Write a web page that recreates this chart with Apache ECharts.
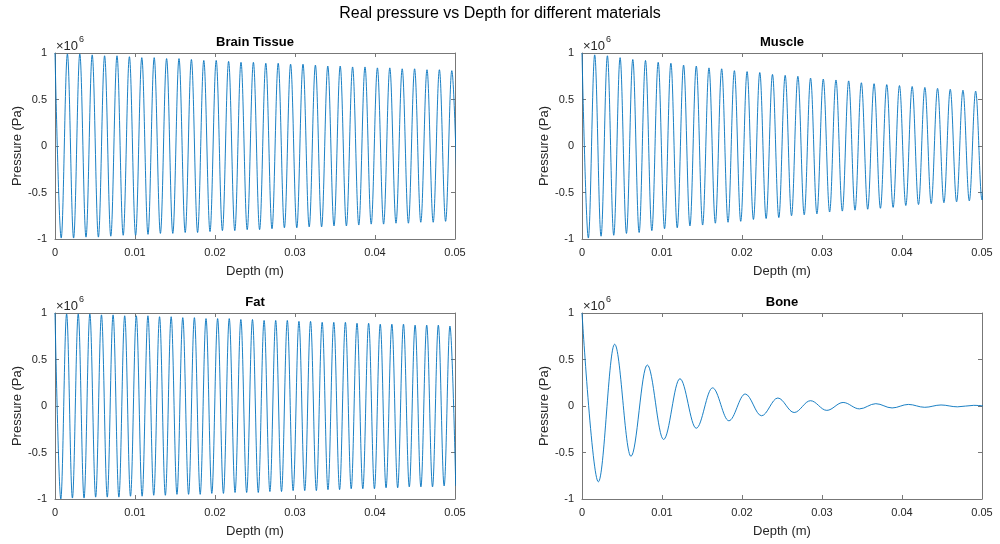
<!DOCTYPE html>
<html>
<head>
<meta charset="utf-8">
<title>Real pressure vs Depth for different materials</title>
<script src="https://cdn.jsdelivr.net/npm/echarts@6/dist/echarts.min.js"></script>
<style>
    html, body { margin: 0; padding: 0; background: #fff; }
    #main { width: 1000px; height: 544px; }
</style>
</head>
<body>
<div id="main"></div>
<script>
// 各曲线的极值点（深度单位 mm，压力单位 1e6 Pa）
var brainDepthMm = [0, 0.775, 1.55, 2.325, 3.1, 3.875, 4.65, 5.425, 6.2, 6.975,
    7.75, 8.525, 9.3, 10.075, 10.85, 11.625, 12.4, 13.175, 13.95, 14.725,
    15.5, 16.275, 17.05, 17.825, 18.6, 19.375, 20.15, 20.925, 21.7, 22.475,
    23.25, 24.025, 24.8, 25.575, 26.35, 27.125, 27.9, 28.675, 29.45, 30.225,
    31, 31.775, 32.55, 33.325, 34.1, 34.875, 35.65, 36.425, 37.2, 37.975,
    38.75, 39.525, 40.3, 41.075, 41.85, 42.625, 43.4, 44.175, 44.95, 45.725,
    46.5, 47.275, 48.05, 48.825, 49.6, 50.375];
var brainPressure = [1.00, -0.99, 0.99, -0.99, 0.99, -0.98, 0.98, -0.98, 0.97, -0.97,
    0.97, -0.96, 0.96, -0.96, 0.95, -0.95, 0.95, -0.94, 0.94, -0.94,
    0.94, -0.93, 0.93, -0.93, 0.92, -0.92, 0.92, -0.91, 0.91, -0.91,
    0.90, -0.90, 0.90, -0.90, 0.89, -0.89, 0.89, -0.88, 0.88, -0.88,
    0.88, -0.87, 0.87, -0.87, 0.86, -0.86, 0.86, -0.86, 0.85, -0.85,
    0.85, -0.84, 0.84, -0.84, 0.84, -0.83, 0.83, -0.83, 0.83, -0.82,
    0.82, -0.82, 0.82, -0.81, 0.81, -0.81];

var muscleDepthMm = [0, 0.794, 1.587, 2.381, 3.175, 3.968, 4.762, 5.556, 6.349, 7.143,
    7.937, 8.730, 9.524, 10.317, 11.111, 11.905, 12.698, 13.492, 14.286, 15.079,
    15.873, 16.667, 17.460, 18.254, 19.048, 19.841, 20.635, 21.429, 22.222, 23.016,
    23.810, 24.603, 25.397, 26.190, 26.984, 27.778, 28.571, 29.365, 30.159, 30.952,
    31.746, 32.540, 33.333, 34.127, 34.921, 35.714, 36.508, 37.302, 38.095, 38.889,
    39.683, 40.476, 41.270, 42.063, 42.857, 43.651, 44.444, 45.238, 46.032, 46.825,
    47.619, 48.413, 49.206, 50.0, 50.794];
var musclePressure = [1.00, -0.99, 0.98, -0.97, 0.97, -0.96, 0.95, -0.94, 0.93, -0.93,
    0.92, -0.91, 0.90, -0.89, 0.89, -0.88, 0.87, -0.86, 0.86, -0.85,
    0.84, -0.83, 0.83, -0.82, 0.81, -0.81, 0.80, -0.79, 0.79, -0.78,
    0.77, -0.77, 0.76, -0.75, 0.75, -0.74, 0.73, -0.73, 0.72, -0.71,
    0.71, -0.70, 0.70, -0.69, 0.68, -0.68, 0.67, -0.67, 0.66, -0.66,
    0.65, -0.64, 0.64, -0.63, 0.63, -0.62, 0.62, -0.61, 0.61, -0.60,
    0.60, -0.59, 0.59, -0.58, 0.58];

var fatDepthMm = [0, 0.726, 1.452, 2.178, 2.904, 3.630, 4.356, 5.082, 5.808, 6.534,
    7.260, 7.986, 8.712, 9.438, 10.164, 10.890, 11.616, 12.342, 13.068, 13.794,
    14.520, 15.246, 15.972, 16.698, 17.424, 18.150, 18.876, 19.602, 20.328, 21.054,
    21.780, 22.506, 23.232, 23.958, 24.684, 25.410, 26.136, 26.862, 27.588, 28.314,
    29.040, 29.766, 30.492, 31.218, 31.944, 32.670, 33.396, 34.122, 34.848, 35.574,
    36.300, 37.026, 37.752, 38.478, 39.204, 39.930, 40.656, 41.382, 42.108, 42.834,
    43.560, 44.286, 45.012, 45.738, 46.464, 47.190, 47.916, 48.642, 49.368, 50.094];
var fatPressure = [1.00, -1.00, 0.99, -0.99, 0.99, -0.99, 0.99, -0.98, 0.98, -0.98,
    0.98, -0.98, 0.97, -0.97, 0.97, -0.97, 0.97, -0.96, 0.96, -0.96,
    0.96, -0.95, 0.95, -0.95, 0.95, -0.95, 0.94, -0.94, 0.94, -0.94,
    0.94, -0.93, 0.93, -0.93, 0.93, -0.93, 0.92, -0.92, 0.92, -0.92,
    0.92, -0.91, 0.91, -0.91, 0.91, -0.91, 0.90, -0.90, 0.90, -0.90,
    0.90, -0.89, 0.89, -0.89, 0.89, -0.89, 0.88, -0.88, 0.88, -0.88,
    0.88, -0.87, 0.87, -0.87, 0.87, -0.87, 0.87, -0.86, 0.86, -0.86];

var boneDepthMm = [0, 2.04, 4.08, 6.12, 8.16, 10.2, 12.24, 14.28, 16.32, 18.36,
    20.4, 22.44, 24.48, 26.52, 28.56, 30.6, 32.64, 34.68, 36.72, 38.76,
    40.8, 42.84, 44.88, 46.92, 48.96, 51.0];
var bonePressure = [1.00, -0.815, 0.664, -0.541, 0.441, -0.360, 0.293, -0.239, 0.195, -0.159,
    0.129, -0.105, 0.086, -0.070, 0.057, -0.047, 0.038, -0.031, 0.025, -0.021,
    0.017, -0.014, 0.011, -0.009, 0.007, -0.006];

var panelTitles = ['Brain Tissue', 'Muscle', 'Fat', 'Bone'];
var xTicks = [0, 0.05, 0.01];      // min, max, interval
var yTicks = [-1, 1, 0.5];

(function () {
    var chart = echarts.init(document.getElementById('main'));

    var font = '"Liberation Sans", Arial, Helvetica, sans-serif';
    var axisColor = '#777777';
    var textColor = '#262626';

    // 子图位置
    var boxes = [
        {left: 55, top: 53},
        {left: 582, top: 53},
        {left: 55, top: 313},
        {left: 582, top: 313}
    ];
    var depths = [brainDepthMm, muscleDepthMm, fatDepthMm, boneDepthMm];
    var pressures = [brainPressure, musclePressure, fatPressure, bonePressure];

    function pairs(d, p) {
        var res = [];
        for (var i = 0; i < d.length; i++) {
            res.push([d[i] / 1000, p[i]]);
        }
        return res;
    }

    var grids = [], xAxes = [], yAxes = [], series = [], graphics = [];
    var titles = [{
        text: 'Real pressure vs Depth for different materials',
        left: 'center',
        top: 6,
        padding: 0,
        textStyle: {fontSize: 16, fontWeight: 'normal', color: '#000', fontFamily: font}
    }];

    for (var i = 0; i < 4; i++) {
        var b = boxes[i];
        grids.push({left: b.left, top: b.top, width: 400, height: 186,
            containLabel: false, outerBoundsMode: 'none'});

        var tickStyle = {inside: true, length: 4, lineStyle: {color: axisColor, width: 1}};
        var lineStyle = {onZero: false, lineStyle: {color: axisColor, width: 1}};

        xAxes.push({
            gridIndex: i, type: 'value', position: 'bottom',
            min: xTicks[0], max: xTicks[1], interval: xTicks[2],
            name: 'Depth (m)', nameLocation: 'middle', nameGap: 26,
            nameTextStyle: {fontSize: 13, color: textColor, fontFamily: font},
            axisLine: lineStyle, axisTick: tickStyle,
            axisLabel: {margin: 8, fontSize: 11, color: textColor, fontFamily: font},
            splitLine: {show: false}
        });
        xAxes.push({
            gridIndex: i, type: 'value', position: 'top',
            min: xTicks[0], max: xTicks[1], interval: xTicks[2],
            axisLine: lineStyle, axisTick: tickStyle,
            axisLabel: {show: false}, splitLine: {show: false}
        });
        yAxes.push({
            gridIndex: i, type: 'value', position: 'left',
            min: yTicks[0], max: yTicks[1], interval: yTicks[2],
            name: 'Pressure (Pa)', nameLocation: 'middle', nameGap: 30,
            nameTextStyle: {fontSize: 13, color: textColor, fontFamily: font},
            axisLine: lineStyle, axisTick: tickStyle,
            axisLabel: {margin: 8, fontSize: 11, color: textColor, fontFamily: font},
            splitLine: {show: false}
        });
        yAxes.push({
            gridIndex: i, type: 'value', position: 'right',
            min: yTicks[0], max: yTicks[1], interval: yTicks[2],
            axisLine: lineStyle, axisTick: tickStyle,
            axisLabel: {show: false}, splitLine: {show: false}
        });

        series.push({
            name: panelTitles[i],
            type: 'line',
            xAxisIndex: i * 2,
            yAxisIndex: i * 2,
            data: pairs(depths[i], pressures[i]),
            showSymbol: false,
            smooth: 0.36,
            smoothMonotone: 'x',
            clip: true,
            lineStyle: {color: '#0072BD', width: 0.9},
            silent: true
        });

        titles.push({
            text: panelTitles[i],
            left: b.left + 200,
            textAlign: 'center',
            top: b.top - 17,
            padding: 0,
            textStyle: {fontSize: 13, fontWeight: 'bold', color: '#000', fontFamily: font}
        });

        // ×10^6 指数标注
        graphics.push({
            type: 'text', x: b.left + 1, y: b.top - 7,
            style: {text: '×10', fill: textColor, font: '13px ' + font, verticalAlign: 'middle'}
        });
        graphics.push({
            type: 'text', x: b.left + 24, y: b.top - 13,
            style: {text: '6', fill: textColor, font: '9px ' + font, verticalAlign: 'middle'}
        });
    }

    var option = {
        backgroundColor: '#ffffff',
        animation: false,
        title: titles,
        grid: grids,
        xAxis: xAxes,
        yAxis: yAxes,
        series: series,
        graphic: graphics
    };
    chart.setOption(option);
})();
</script>
</body>
</html>
